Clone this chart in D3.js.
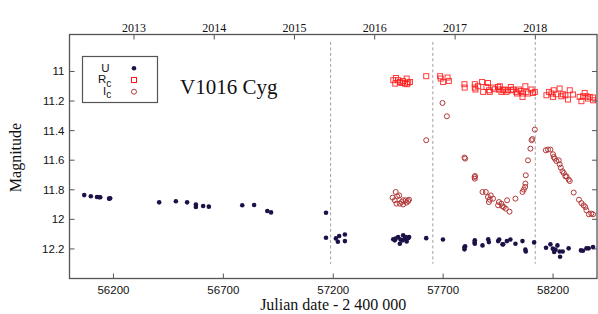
<!DOCTYPE html>
<html>
<head>
<meta charset="utf-8">
<script src="https://cdn.jsdelivr.net/npm/d3@7"></script>
<style>
  body { margin: 0; background: #fff; }
  .tick-sans { font-family: "Liberation Sans", Arial, sans-serif; font-size: 11.5px; fill: #111; }
  .serif { font-family: "Liberation Serif", "Times New Roman", serif; fill: #111; }
</style>
</head>
<body>
<div id="chart"></div>
<script>
// V1016 Cyg light curves, JD - 2400000 vs magnitude

var uJD = [56067, 56097, 56125, 56135, 56140, 56180, 56185, 56408, 56484, 56535, 56575, 56575, 56608, 56634,
  56786, 56840, 56900, 56917, 57167, 57167, 57212, 57221, 57227, 57253, 57253,
  57473, 57484, 57495, 57503, 57515, 57518, 57526, 57534, 57541, 57545, 57480, 57506, 57530,
  57623, 57699, 57797, 57797, 57800, 57844, 57844, 57843, 57879, 57905, 57908, 57950, 57955, 57970, 57973,
  57990, 58006, 58029, 58061, 58074, 58076, 58114, 58168, 58188, 58199, 58205, 58211, 58220, 58232,
  58230, 58244, 58271, 58327, 58336, 58352, 58362, 58382];
var uMag = [11.836, 11.844, 11.849, 11.851, 11.851, 11.860, 11.858, 11.885, 11.878, 11.885, 11.900, 11.917, 11.910, 11.914,
  11.905, 11.903, 11.944, 11.953, 11.955, 12.124, 12.129, 12.151, 12.113, 12.102, 12.147,
  12.135, 12.130, 12.120, 12.165, 12.142, 12.108, 12.130, 12.149, 12.127, 12.120, 12.142, 12.137, 12.120,
  12.127, 12.136, 12.188, 12.203, 12.183, 12.142, 12.165, 12.156, 12.176, 12.135, 12.154, 12.147, 12.137, 12.169, 12.169,
  12.147, 12.136, 12.165, 12.147, 12.205, 12.217, 12.156, 12.192, 12.169, 12.198, 12.221, 12.205, 12.176, 12.253,
  12.217, 12.217, 12.196, 12.210, 12.212, 12.196, 12.196, 12.187];

var rJD = [57473, 57485, 57495, 57482, 57503, 57511, 57518, 57526, 57534, 57541, 57549, 57536,
  57623, 57686, 57689, 57700, 57720, 57726, 57797, 57798, 57844, 57844, 57847, 57859,
  57877, 57882, 57897, 57904, 57909, 57912, 57927, 57935, 57950, 57954, 57958, 57965, 57973, 57980,
  57988, 57995, 58008, 58011, 58018, 58033, 58036, 58045, 58052, 58061, 58063, 58074, 58079, 58086,
  58102, 58109, 58117, 58170, 58182, 58193, 58200, 58203, 58215, 58230, 58238, 58245, 58256, 58268,
  58276, 58291, 58321, 58329, 58336, 58344, 58352, 58359, 58367, 58382, 58382];
var rMag = [11.059, 11.044, 11.059, 11.082, 11.071, 11.078, 11.064, 11.082, 11.048, 11.075, 11.071, 11.086,
  11.032, 11.032, 11.048, 11.071, 11.041, 11.064, 11.086, 11.109, 11.086, 11.109, 11.122, 11.100,
  11.071, 11.138, 11.105, 11.078, 11.127, 11.138, 11.109, 11.120, 11.105, 11.122, 11.100, 11.138, 11.127, 11.122,
  11.138, 11.127, 11.105, 11.127, 11.122, 11.138, 11.149, 11.122, 11.132, 11.172, 11.149, 11.100, 11.138, 11.149,
  11.122, 11.145, 11.138, 11.161, 11.138, 11.149, 11.172, 11.127, 11.154, 11.115, 11.168, 11.154, 11.161, 11.190,
  11.127, 11.156, 11.172, 11.201, 11.168, 11.145, 11.168, 11.183, 11.172, 11.195, 11.176];

var iJD = [57484, 57470, 57491, 57500, 57480, 57488, 57503, 57518, 57518, 57530, 57541, 57545, 57511, 57534,
  57623, 57697, 57717, 57797, 57800, 57843, 57845, 57844, 57879, 57894, 57904, 57912, 57908, 57917, 57927,
  57950, 57954, 57965, 57970, 57976, 57985, 57991, 58002, 58029, 58061, 58067, 58073, 58074, 58076, 58086,
  58097, 58102, 58106, 58117, 58167, 58177, 58188, 58200, 58203, 58208, 58215, 58226, 58230, 58235, 58243,
  58249, 58256, 58261, 58271, 58276, 58294, 58318, 58329, 58339, 58347, 58352, 58363, 58374, 58382];
var iMag = [11.815, 11.853, 11.844, 11.838, 11.871, 11.894, 11.894, 11.899, 11.871, 11.871, 11.876, 11.867, 11.883, 11.887,
  11.465, 11.213, 11.303, 11.582, 11.589, 11.714, 11.707, 11.725, 11.815, 11.815, 11.849, 11.867, 11.883, 11.838, 11.860,
  11.905, 11.883, 11.894, 11.912, 11.917, 11.928, 11.871, 11.948, 11.860, 11.815, 11.799, 11.781, 11.758, 11.702, 11.601,
  11.522, 11.465, 11.457, 11.393, 11.533, 11.528, 11.528, 11.560, 11.578, 11.589, 11.605, 11.601, 11.628, 11.650, 11.675,
  11.687, 11.709, 11.709, 11.731, 11.741, 11.819, 11.867, 11.890, 11.905, 11.917, 11.939, 11.966, 11.961, 11.966];

var xTicks = [56200, 56700, 57200, 57700, 58200];
var yTicks = [11, 11.2, 11.4, 11.6, 11.8, 12, 12.2];
var years = ["2013", "2014", "2015", "2016", "2017", "2018"];
var yearJD = [56293.5, 56658.5, 57023.5, 57388.5, 57754.5, 58119.5];
var markJD = [57188, 57653, 58119];

var width = 598, height = 314;
var pLeft = 69.5, pRight = 597, pTop = 34.5, pBottom = 278.5;

var svg = d3.select("#chart").append("svg")
    .attr("width", width)
    .attr("height", height);

var x = d3.scaleLinear().domain([56000, 58400]).range([pLeft, pRight]);
var y = d3.scaleLinear().domain([10.75, 12.4]).range([pTop, pBottom]);

var axisColor = "#555";

// dashed vertical markers
svg.selectAll(".mark")
  .data(markJD)
  .enter().append("line")
    .attr("x1", function(d) { return x(d); })
    .attr("x2", function(d) { return x(d); })
    .attr("y1", y(10.8))
    .attr("y2", y(12.3))
    .attr("stroke", "#a0a0a0")
    .attr("stroke-width", 1)
    .attr("stroke-dasharray", "3,2.5");

// ticks (all pointing inward)
var tk = 5;
svg.selectAll(".xt")
  .data(xTicks)
  .enter().append("line")
    .attr("x1", function(d) { return x(d); })
    .attr("x2", function(d) { return x(d); })
    .attr("y1", pBottom).attr("y2", pBottom - tk)
    .attr("stroke", axisColor);
svg.selectAll(".xl")
  .data(xTicks)
  .enter().append("text")
    .attr("class", "tick-sans")
    .attr("x", function(d) { return x(d); })
    .attr("y", 293.5)
    .attr("text-anchor", "middle")
    .text(function(d) { return d; });

svg.selectAll(".yrt")
  .data(yearJD)
  .enter().append("line")
    .attr("x1", function(d) { return x(d); })
    .attr("x2", function(d) { return x(d); })
    .attr("y1", pTop).attr("y2", pTop + tk)
    .attr("stroke", axisColor);
svg.selectAll(".yrl")
  .data(yearJD)
  .enter().append("text")
    .attr("class", "serif")
    .style("font-size", "12px")
    .attr("x", function(d) { return x(d); })
    .attr("y", 31.5)
    .attr("text-anchor", "middle")
    .text(function(d, i) { return years[i]; });

svg.selectAll(".ytl")
  .data(yTicks)
  .enter().append("line")
    .attr("x1", pLeft).attr("x2", pLeft + tk)
    .attr("y1", function(d) { return y(d); })
    .attr("y2", function(d) { return y(d); })
    .attr("stroke", axisColor);
svg.selectAll(".ytr")
  .data(yTicks)
  .enter().append("line")
    .attr("x1", pRight).attr("x2", pRight - tk)
    .attr("y1", function(d) { return y(d); })
    .attr("y2", function(d) { return y(d); })
    .attr("stroke", axisColor);
svg.selectAll(".yl")
  .data(yTicks)
  .enter().append("text")
    .attr("class", "tick-sans")
    .attr("x", 64.5)
    .attr("y", function(d) { return y(d) + 4; })
    .attr("text-anchor", "end")
    .text(function(d) { return d3.format("~g")(d); });

// frame
svg.append("rect")
  .attr("x", pLeft).attr("y", pTop)
  .attr("width", pRight - pLeft).attr("height", pBottom - pTop)
  .attr("fill", "none")
  .attr("stroke", axisColor)
  .attr("stroke-width", 1.3);

// axis titles
svg.append("text")
  .attr("class", "serif")
  .style("font-size", "16px")
  .attr("x", (pLeft + pRight) / 2)
  .attr("y", 310)
  .attr("text-anchor", "middle")
  .text("Julian date - 2 400 000");

svg.append("text")
  .attr("class", "serif")
  .style("font-size", "16px")
  .attr("transform", "translate(21," + 157.5 + ") rotate(-90)")
  .attr("text-anchor", "middle")
  .text("Magnitude");

// data
var uCol = "#1e1148", rCol = "#ff1a1a", iCol = "#b23838";

svg.append("g").selectAll("circle")
  .data(d3.range(uJD.length))
  .enter().append("circle")
    .attr("cx", function(i) { return x(uJD[i]); })
    .attr("cy", function(i) { return y(uMag[i]); })
    .attr("r", 2.3)
    .attr("fill", uCol);

svg.append("g").selectAll("rect")
  .data(d3.range(rJD.length))
  .enter().append("rect")
    .attr("x", function(i) { return x(rJD[i]) - 2.5; })
    .attr("y", function(i) { return y(rMag[i]) - 2.5; })
    .attr("width", 5).attr("height", 5)
    .attr("fill", "none")
    .attr("stroke", rCol)
    .attr("stroke-opacity", 0.85)
    .attr("stroke-width", 1);

svg.append("g").selectAll("circle")
  .data(d3.range(iJD.length))
  .enter().append("circle")
    .attr("cx", function(i) { return x(iJD[i]); })
    .attr("cy", function(i) { return y(iMag[i]); })
    .attr("r", 2.5)
    .attr("fill", "none")
    .attr("stroke", iCol)
    .attr("stroke-width", 1);

// legend
var lg = svg.append("g");
lg.append("rect")
  .attr("x", 82.5).attr("y", 56.5)
  .attr("width", 75).attr("height", 46)
  .attr("fill", "#fff")
  .attr("stroke", axisColor)
  .attr("stroke-width", 1.2);

var lgY = [68.3, 80, 91.7];
lg.append("text").attr("class", "tick-sans").attr("x", 105.5).attr("y", lgY[0] + 3.5)
  .attr("text-anchor", "middle").text("U");
var rt = lg.append("text").attr("class", "tick-sans").attr("x", 98).attr("y", lgY[1] + 3);
rt.append("tspan").text("R");
rt.append("tspan").attr("dy", 3.5).style("font-size", "10px").text("c");
var it = lg.append("text").attr("class", "tick-sans").attr("x", 103).attr("y", lgY[2] + 3);
it.append("tspan").text("I");
it.append("tspan").attr("dy", 3.5).style("font-size", "10px").text("c");

lg.append("circle").attr("cx", 134).attr("cy", lgY[0]).attr("r", 2.3).attr("fill", uCol);
lg.append("rect").attr("x", 131.5).attr("y", lgY[1] - 2.5).attr("width", 5).attr("height", 5)
  .attr("fill", "none").attr("stroke", rCol).attr("stroke-width", 1);
lg.append("circle").attr("cx", 134).attr("cy", lgY[2]).attr("r", 2.5)
  .attr("fill", "none").attr("stroke", iCol).attr("stroke-width", 1);

svg.append("text")
  .attr("class", "serif")
  .style("font-size", "21px")
  .attr("x", 180)
  .attr("y", 94)
  .text("V1016 Cyg");
</script>
</body>
</html>
